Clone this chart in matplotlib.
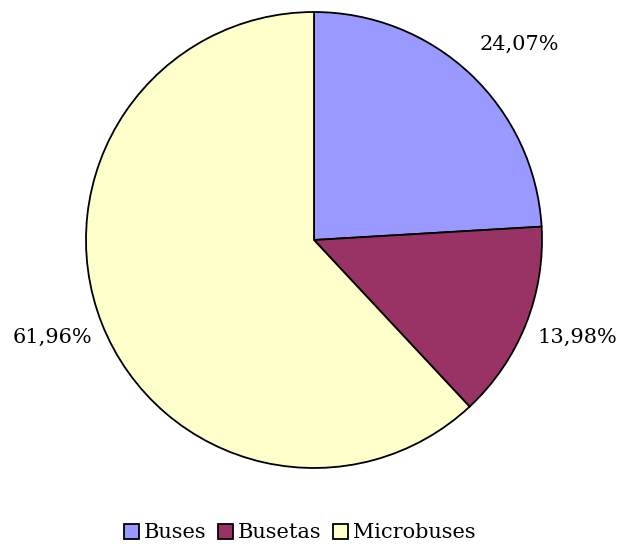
import numpy as np
import matplotlib.pyplot as plt

categories = ["Buses", "Busetas", "Microbuses"]
values = [24.07, 13.98, 61.96]
labels = ["24,07%", "13,98%", "61,96%"]
colors = ["#9999FF", "#993366", "#FFFFCC"]

plt.rcParams['font.family'] = ['DejaVu Serif']

fig = plt.figure(figsize=(6.18, 5.44), dpi=100)
ax = fig.add_axes([86 / 618, 76 / 544, 456 / 618, 456 / 544])

wedges, _ = ax.pie(values, colors=colors, startangle=90, counterclock=False,
                   wedgeprops=dict(edgecolor="black", linewidth=1.3))
ax.set_aspect("equal")
ax.set_xlim(-1, 1)
ax.set_ylim(-1, 1)

# percentage labels outside the pie (radius, angle nudge in degrees)
label_place = [(1.245, -3.0), (1.23, 1.4), (1.225, -1.2)]
start = 90.0
total = sum(values)
for v, lab, (r, nudge) in zip(values, labels, label_place):
    sweep = v / total * 360
    mid = np.deg2rad(start - sweep / 2 + nudge)
    ax.text(r * np.cos(mid), r * np.sin(mid), lab, ha="center", va="center",
            fontsize=15)
    start -= sweep

fig.legend(wedges, categories, loc="center", bbox_to_anchor=(300 / 618, 1 - 533 / 544),
           ncol=3, frameon=False, fontsize=15, handlelength=0.7, handleheight=0.7,
           handletextpad=0.25, columnspacing=0.55, borderpad=0.1)

fig.savefig("out.png", dpi=100)
